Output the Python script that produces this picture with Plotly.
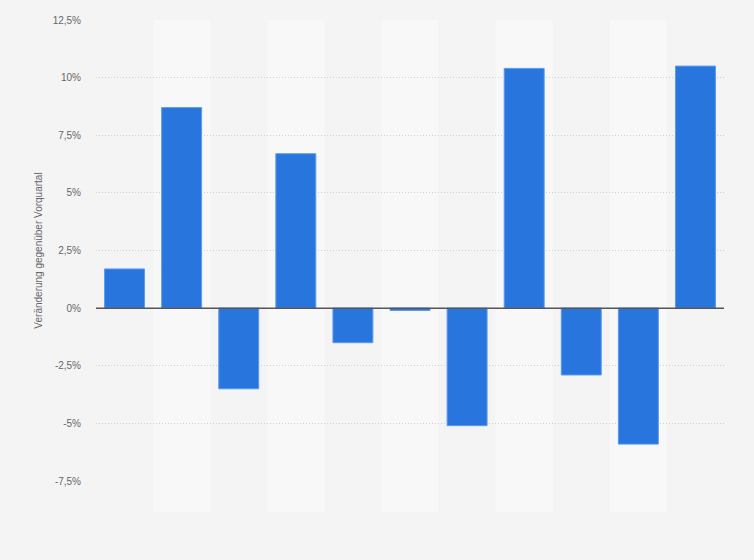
import plotly.graph_objects as go

categories = ["Q1", "Q2", "Q3", "Q4", "Q5", "Q6", "Q7", "Q8", "Q9", "Q10", "Q11"]
values = [1.7, 8.7, -3.5, 6.7, -1.5, -0.1, -5.1, 10.4, -2.9, -5.9, 10.5]
tick_vals = [-7.5, -5, -2.5, 0, 2.5, 5, 7.5, 10, 12.5]
tick_text = ["-7,5%", "-5%", "-2,5%", "0%", "2,5%", "5%", "7,5%", "10%", "12,5%"]
y_title = "Veränderung gegenüber Vorquartal"

fig = go.Figure()
fig.add_trace(go.Bar(
    x=categories, y=values,
    marker=dict(color="#2876dd", line=dict(color="#5b9af0", width=1)),
    hoverinfo="y",
))

shapes = []
for i in range(len(categories)):
    if i % 2 == 1:
        shapes.append(dict(type="rect", xref="x", yref="paper",
                           x0=i - 0.5, x1=i + 0.5, y0=-0.067, y1=1,
                           fillcolor="#f8f8f8", line=dict(width=0), layer="below"))
shapes.append(dict(type="line", xref="paper", yref="y", x0=0, x1=1, y0=0, y1=0,
                   line=dict(color="#555555", width=1.5), layer="above"))

fig.update_layout(
    width=754, height=560,
    margin=dict(l=96, r=30, t=20, b=79),
    paper_bgcolor="#f4f4f4",
    plot_bgcolor="#f4f4f4",
    bargap=0.3,
    showlegend=False,
    shapes=shapes,
    font=dict(family="Arial, Liberation Sans, sans-serif", size=10, color="#666666"),
    xaxis=dict(showticklabels=False, showgrid=False, zeroline=False,
               range=[-0.5, len(categories) - 0.5]),
    yaxis=dict(range=[-7.5, 12.5], tickvals=tick_vals, ticktext=tick_text,
               showgrid=True, gridcolor="#d0d0d0", griddash="1px,2px", gridwidth=1,
               zeroline=False, ticks="", ticklen=0, ticklabelstandoff=14,
               title=dict(text=y_title, font=dict(size=10, color="#666666"), standoff=8),
               tickfont=dict(size=10, color="#666666")),
)

fig.write_html("out.html", config={"displayModeBar": False},
               post_script="document.body.style.margin='0';document.body.style.padding='0';document.body.style.background='#f4f4f4';")
